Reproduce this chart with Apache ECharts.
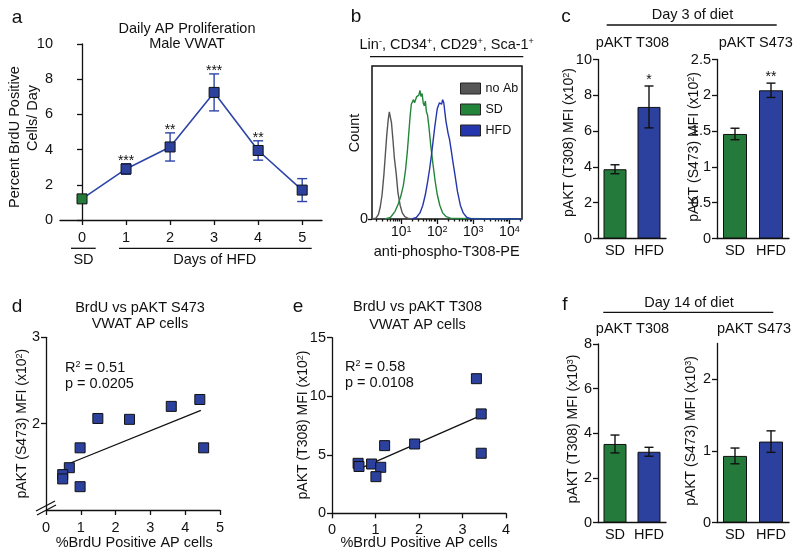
<!DOCTYPE html>
<html><head><meta charset="utf-8">
<script src="https://cdn.jsdelivr.net/npm/echarts@6/dist/echarts.min.js"></script>
<style>html,body{margin:0;padding:0;background:#fff}#c{width:800px;height:556px}</style>
</head><body><div id="c"></div>
<script>
// ---------------- data ----------------
// panel a
const dayCats = [0, 1, 2, 3, 4, 5];
const dayGroup = ['SD', 'HFD', 'HFD', 'HFD', 'HFD', 'HFD'];
const brduMean = [1.2, 2.9, 4.15, 7.25, 3.95, 1.7];
const brduErr = [0.1, 0.3, 0.8, 1.05, 0.55, 0.65];
const brduStars = ['', '***', '**', '***', '**', ''];
// panel b (log10 fluorescence vs relative count)
const noAbX = [0.19, 0.30, 0.37, 0.42, 0.47, 0.52, 0.56, 0.60, 0.64, 0.67, 0.70, 0.73, 0.77, 0.81, 0.86, 0.91, 0.97, 1.03, 1.10, 1.18, 1.30];
const noAbY = [0, 0.005, 0.03, 0.08, 0.16, 0.29, 0.42, 0.55, 0.65, 0.70, 0.69, 0.63, 0.52, 0.40, 0.30, 0.17, 0.09, 0.04, 0.015, 0.005, 0];
const sdX = [0.55, 0.70, 0.83, 0.92, 0.99, 1.06, 1.12, 1.17, 1.21, 1.25, 1.28, 1.31, 1.34, 1.37, 1.40, 1.43, 1.46, 1.49, 1.52, 1.55, 1.58, 1.61, 1.64, 1.67, 1.70, 1.73, 1.77, 1.82, 1.88, 1.94, 2.00, 2.07, 2.15, 2.25, 2.40, 4.35];
const sdY = [0, 0.01, 0.05, 0.10, 0.15, 0.22, 0.32, 0.44, 0.56, 0.68, 0.75, 0.74, 0.78, 0.76, 0.77, 0.80, 0.79, 0.81, 0.84, 0.80, 0.82, 0.76, 0.74, 0.77, 0.70, 0.68, 0.60, 0.48, 0.36, 0.25, 0.16, 0.09, 0.04, 0.015, 0.003, 0];
const hfdX = [1.30, 1.42, 1.52, 1.60, 1.67, 1.73, 1.79, 1.84, 1.89, 1.93, 1.97, 2.00, 2.03, 2.06, 2.09, 2.12, 2.15, 2.18, 2.21, 2.24, 2.27, 2.30, 2.34, 2.38, 2.43, 2.49, 2.56, 2.64, 2.72, 2.82, 2.95, 4.35];
const hfdY = [0, 0.01, 0.04, 0.09, 0.16, 0.24, 0.33, 0.42, 0.52, 0.60, 0.67, 0.72, 0.71, 0.76, 0.77, 0.75, 0.78, 0.76, 0.70, 0.64, 0.60, 0.56, 0.52, 0.46, 0.38, 0.29, 0.18, 0.09, 0.04, 0.01, 0, 0];
const logTicks = [1, 2, 3, 4];
// panel c (day 3)
const dietCats = ['SD', 'HFD'];
const c308Mean = [3.87, 7.35];
const c308Err = [0.25, 1.17];
const c308Stars = ['', '*'];
const c473Mean = [1.46, 2.07];
const c473Err = [0.08, 0.1];
const c473Stars = ['', '**'];
// panel d
const dBrdu = [4.42, 3.6, 1.49, 2.4, 0.98, 4.53, 0.67, 0.48, 0.48, 0.98];
const dS473 = [2.28, 2.2, 2.06, 2.05, 1.72, 1.72, 1.49, 1.41, 1.36, 1.27];
const dFitX = [0.67, 4.45];
// panel e
const eBrdu = [3.32, 3.43, 3.43, 1.9, 1.21, 0.6, 0.62, 0.91, 1.12, 1.01];
const eT308 = [11.5, 8.49, 5.13, 5.92, 5.78, 4.27, 4.0, 4.21, 3.93, 3.13];
const eFitX = [0.6, 3.43];
// panel f (day 14)
const f308Mean = [3.52, 3.17];
const f308Err = [0.4, 0.2];
const f473Mean = [0.93, 1.13];
const f473Err = [0.11, 0.15];

// ---------------- style ----------------
const FF = "'Liberation Sans', Arial, Helvetica, sans-serif";
const GREEN = '#237a3b', BLUE = '#2c409e', LINEBLUE = '#2d44a8', INK = '#111';
const groupColor = { SD: GREEN, HFD: BLUE };
const TICKFS = 14.5;

function fit(xs, ys) {
  const n = xs.length;
  const mx = xs.reduce((a, b) => a + b, 0) / n, my = ys.reduce((a, b) => a + b, 0) / n;
  let sxy = 0, sxx = 0;
  for (let i = 0; i < n; i++) { sxy += (xs[i] - mx) * (ys[i] - my); sxx += (xs[i] - mx) ** 2; }
  const k = sxy / sxx;
  return x => my + k * (x - mx);
}
const fd = fit(dBrdu, dS473), fe = fit(eBrdu, eT308);

const aLine = { show: true, lineStyle: { color: INK, width: 1.3 } };
const aTick = (extra) => Object.assign({ show: true, inside: false, length: 5, lineStyle: { color: INK, width: 1.3 } }, extra || {});
const aLbl = (m, extra) => Object.assign({ color: INK, fontFamily: FF, fontSize: TICKFS, margin: m }, extra || {});
const noSplit = { show: false };

function errItem(color, capW, stars, gap) {
  return function (params, api) {
    const x = api.value(0), m = api.value(1), e = api.value(2);
    const hi = api.coord([x, m + e]), lo = api.coord([x, m - e]);
    const st = { stroke: color, lineWidth: 1.4 };
    const ch = [
      { type: 'line', shape: { x1: hi[0], y1: hi[1], x2: lo[0], y2: lo[1] }, style: st },
      { type: 'line', shape: { x1: hi[0] - capW / 2, y1: hi[1], x2: hi[0] + capW / 2, y2: hi[1] }, style: st },
      { type: 'line', shape: { x1: lo[0] - capW / 2, y1: lo[1], x2: lo[0] + capW / 2, y2: lo[1] }, style: st }
    ];
    const s = stars && stars[params.dataIndex];
    if (s) ch.push({ type: 'text', x: hi[0], y: hi[1] - gap, style: { text: s, fill: INK, fontFamily: FF, fontSize: 14, align: 'center', verticalAlign: 'middle' } });
    return { type: 'group', children: ch };
  };
}

// ---------------- text helpers ----------------
const G = [];
const RICH = {
  n: { fontFamily: FF, fontSize: 14, fill: INK },
  t: { fontFamily: FF, fontSize: 14.5, fill: INK },
  s: { fontFamily: FF, fontSize: 9, fill: INK, verticalAlign: 'top' }
};
function T(x, y, text, size, opt) {
  opt = opt || {};
  G.push({
    type: 'text', x: x, y: y, rotation: opt.rot ? Math.PI / 2 : 0, z: 100,
    style: { text: text, fontFamily: FF, fontSize: size, fill: INK, align: opt.align || 'center', verticalAlign: 'middle', rich: RICH }
  });
}
function L(x1, y1, x2, y2, w) {
  G.push({ type: 'line', z: 100, shape: { x1, y1, x2, y2 }, style: { stroke: INK, lineWidth: w || 1.3 } });
}
const R = true;
// a
T(17, 18, 'a', 19);
T(187, 29, 'Daily AP Proliferation', 14.5); T(187, 44, 'Male VWAT', 14.5);
T(15, 137, 'Percent BrdU Positive', 14.5, { rot: R }); T(33, 118, 'Cells/ Day', 14.5, { rot: R });
T(83.5, 260, 'SD', 14.5); T(214.7, 260, 'Days of HFD', 14.5);
L(71, 248.3, 95.7, 248.3); L(119, 248.3, 311.7, 248.3);
// b
T(356, 17, 'b', 19);
T(446.7, 45, '{t|Lin}{s|-}{t|, CD34}{s|+}{t|, CD29}{s|+}{t|, Sca-1}{s|+}', 14.5);
L(370, 56.7, 523.3, 56.7);
T(355, 133, 'Count', 14.5, { rot: R });
T(446.7, 252.3, 'anti-phospho-T308-PE', 14.5);
// c
T(566, 17, 'c', 19);
T(692.5, 15, 'Day 3 of diet', 14.5); L(606.7, 25, 776.7, 25);
T(632.5, 42.7, 'pAKT T308', 14.5); T(755.8, 42.7, 'pAKT S473', 14.5);
T(569, 142.5, '{n|pAKT (T308) MFI (x10}{s|2}{n|)}', 14, { rot: R });
T(694, 147, '{n|pAKT (S473) MFI (x10}{s|2}{n|)}', 14, { rot: R });
// d
T(17, 307, 'd', 19);
T(140, 308, 'BrdU vs pAKT S473', 14.5); T(140, 324, 'VWAT AP cells', 14.5);
T(65, 368, '{t|R}{s|2}{t| = 0.51}', 14.5, { align: 'left' }); T(65, 384, 'p = 0.0205', 14.5, { align: 'left' });
T(21.7, 423.7, '{n|pAKT (S473) MFI (x10}{s|2}{n|)}', 14, { rot: R });
T(134.2, 543, '%BrdU Positive AP cells', 14.5);
L(36, 511, 55, 501); L(37, 515, 56, 505);
// e
T(298, 307, 'e', 19);
T(417.5, 307, 'BrdU vs pAKT T308', 14.5); T(417.5, 325, 'VWAT AP cells', 14.5);
T(345, 367, '{t|R}{s|2}{t| = 0.58}', 14.5, { align: 'left' }); T(345, 383, 'p = 0.0108', 14.5, { align: 'left' });
T(303.3, 425, '{n|pAKT (T308) MFI (x10}{s|2}{n|)}', 14, { rot: R });
T(419, 543, '%BrdU Positive AP cells', 14.5);
// f
T(565, 305, 'f', 19);
T(689, 303.3, 'Day 14 of diet', 14.5); L(603.3, 312.3, 773.3, 312.3);
T(632.5, 329, 'pAKT T308', 14.5); T(754, 329, 'pAKT S473', 14.5);
T(573.3, 429, '{n|pAKT (T308) MFI (x10}{s|3}{n|)}', 14, { rot: R });
T(691, 431, '{n|pAKT (S473) MFI (x10}{s|3}{n|)}', 14, { rot: R });

// ---------------- axes ----------------
const minorTicks = [];
for (let n = 0; n <= 4; n++) for (let k = 2; k <= 9; k++) { const v = n + Math.log10(k); if (v >= 0.19 && v <= 4.35) minorTicks.push(v); }

const grids = [
  { left: 60, top: 44, width: 262, height: 176 },          // a
  { left: 372, top: 66, width: 150, height: 153, show: true, borderColor: INK, borderWidth: 1.5 }, // b
  { left: 598, top: 59.5, width: 68, height: 179 },        // c left
  { left: 717, top: 59.5, width: 72, height: 179 },        // c right
  { left: 46, top: 337.3, width: 174, height: 172.7 },     // d
  { left: 332, top: 337.7, width: 174, height: 175.6 },    // e
  { left: 598, top: 344, width: 68, height: 178.5 },       // f left
  { left: 717, top: 343.5, width: 72, height: 179 }        // f right
];

const catLbl = (m) => aLbl(m, { interval: 0 });
const xAxes = [
  { gridIndex: 0, type: 'value', min: -0.5, max: 5.45, axisLine: aLine, axisTick: aTick({ customValues: dayCats }), axisLabel: aLbl(10, { customValues: dayCats }), splitLine: noSplit },
  { gridIndex: 1, type: 'value', position: 'bottom', min: 0.19, max: 4.35, axisLine: { show: false }, axisTick: aTick({ length: 5, customValues: logTicks }),
    axisLabel: aLbl(6, { customValues: logTicks, formatter: v => '{b|10}{s|' + Math.round(v) + '}', rich: { b: { fontFamily: FF, fontSize: 14, color: INK }, s: { fontFamily: FF, fontSize: 9, color: INK, verticalAlign: 'top' } } }), splitLine: noSplit },
  { gridIndex: 1, type: 'value', position: 'bottom', min: 0.19, max: 4.35, axisLine: { show: false }, axisTick: aTick({ length: 2.5, customValues: minorTicks }), axisLabel: { show: false }, splitLine: noSplit },
  { gridIndex: 2, type: 'category', data: dietCats, axisLine: aLine, axisTick: { show: false }, axisLabel: catLbl(5) },
  { gridIndex: 3, type: 'category', data: dietCats, axisLine: aLine, axisTick: { show: false }, axisLabel: catLbl(5) },
  { gridIndex: 4, type: 'value', min: 0, max: 5, interval: 1, axisLine: aLine, axisTick: aTick(), axisLabel: aLbl(10), splitLine: noSplit },
  { gridIndex: 5, type: 'value', min: 0, max: 4, interval: 1, axisLine: aLine, axisTick: aTick(), axisLabel: aLbl(9), splitLine: noSplit },
  { gridIndex: 6, type: 'category', data: dietCats, axisLine: aLine, axisTick: { show: false }, axisLabel: catLbl(5) },
  { gridIndex: 7, type: 'category', data: dietCats, axisLine: aLine, axisTick: { show: false }, axisLabel: catLbl(5) }
];
const yAxes = [
  { gridIndex: 0, type: 'value', min: 0, max: 10, interval: 2, axisLine: aLine, axisTick: aTick(), axisLabel: aLbl(7), splitLine: noSplit },
  { gridIndex: 1, type: 'value', min: 0, max: 1, axisLine: { show: false }, axisTick: aTick({ length: 4, customValues: [0] }), axisLabel: aLbl(4, { customValues: [0] }), splitLine: noSplit },
  { gridIndex: 2, type: 'value', min: 0, max: 10, interval: 2, axisLine: aLine, axisTick: aTick(), axisLabel: aLbl(6), splitLine: noSplit },
  { gridIndex: 3, type: 'value', min: 0, max: 2.5, interval: 0.5, axisLine: aLine, axisTick: aTick(), axisLabel: aLbl(6), splitLine: noSplit },
  { gridIndex: 4, type: 'value', min: 1, max: 3, axisLine: aLine, axisTick: aTick({ customValues: [2, 3] }), axisLabel: aLbl(6, { customValues: [2, 3] }), splitLine: noSplit },
  { gridIndex: 5, type: 'value', min: 0, max: 15, interval: 5, axisLine: aLine, axisTick: aTick(), axisLabel: aLbl(6), splitLine: noSplit },
  { gridIndex: 6, type: 'value', min: 0, max: 8, interval: 2, axisLine: aLine, axisTick: aTick(), axisLabel: aLbl(6), splitLine: noSplit },
  { gridIndex: 7, type: 'value', min: 0, max: 2.5, axisLine: aLine, axisTick: aTick({ customValues: [0, 1, 2] }), axisLabel: aLbl(6, { customValues: [0, 1, 2] }), splitLine: noSplit }
];

// ---------------- series ----------------
const sq = (c) => ({ color: c, borderColor: INK, borderWidth: 1, opacity: 1 });
const barData = (vals) => vals.map((v, i) => ({ value: v, itemStyle: { color: groupColor[dietCats[i]] } }));
const errData = (m, e) => m.map((v, i) => [i, v, e[i]]);
const series = [
  // a
  { type: 'custom', xAxisIndex: 0, yAxisIndex: 0, z: 2, renderItem: errItem(LINEBLUE, 10, brduStars, 3),
    data: dayCats.map((d, i) => [d, brduMean[i], brduErr[i]]) },
  { type: 'line', xAxisIndex: 0, yAxisIndex: 0, z: 3, symbol: 'rect', symbolSize: 10, lineStyle: { color: LINEBLUE, width: 1.6 },
    data: dayCats.map((d, i) => ({ value: [d, brduMean[i]], itemStyle: sq(groupColor[dayGroup[i]]) })) },
  // b
  { name: 'no Ab', type: 'line', xAxisIndex: 1, yAxisIndex: 1, symbol: 'none', color: '#555', lineStyle: { color: '#555', width: 1.4 }, data: noAbX.map((x, i) => [x, noAbY[i]]) },
  { name: 'SD', type: 'line', xAxisIndex: 1, yAxisIndex: 1, symbol: 'none', color: '#23853a', lineStyle: { color: '#23853a', width: 1.4 }, data: sdX.map((x, i) => [x, sdY[i]]) },
  { name: 'HFD', type: 'line', xAxisIndex: 1, yAxisIndex: 1, symbol: 'none', color: '#2436ad', lineStyle: { color: '#2436ad', width: 1.4 }, data: hfdX.map((x, i) => [x, hfdY[i]]) },
  // c
  { type: 'bar', xAxisIndex: 3, yAxisIndex: 2, barWidth: 23, itemStyle: { borderColor: INK, borderWidth: 1 }, data: barData(c308Mean) },
  { type: 'custom', xAxisIndex: 3, yAxisIndex: 2, z: 5, renderItem: errItem(INK, 9, c308Stars, 5.5), data: errData(c308Mean, c308Err) },
  { type: 'bar', xAxisIndex: 4, yAxisIndex: 3, barWidth: 24, itemStyle: { borderColor: INK, borderWidth: 1 }, data: barData(c473Mean) },
  { type: 'custom', xAxisIndex: 4, yAxisIndex: 3, z: 5, renderItem: errItem(INK, 9, c473Stars, 5.5), data: errData(c473Mean, c473Err) },
  // d
  { type: 'line', xAxisIndex: 5, yAxisIndex: 4, symbol: 'none', z: 2, lineStyle: { color: INK, width: 1.3 }, data: dFitX.map(x => [x, fd(x)]) },
  { type: 'scatter', xAxisIndex: 5, yAxisIndex: 4, z: 3, symbol: 'rect', symbolSize: 10, itemStyle: sq(BLUE), data: dBrdu.map((x, i) => [x, dS473[i]]) },
  // e
  { type: 'line', xAxisIndex: 6, yAxisIndex: 5, symbol: 'none', z: 2, lineStyle: { color: INK, width: 1.3 }, data: eFitX.map(x => [x, fe(x)]) },
  { type: 'scatter', xAxisIndex: 6, yAxisIndex: 5, z: 3, symbol: 'rect', symbolSize: 10, itemStyle: sq(BLUE), data: eBrdu.map((x, i) => [x, eT308[i]]) },
  // f
  { type: 'bar', xAxisIndex: 7, yAxisIndex: 6, barWidth: 23, itemStyle: { borderColor: INK, borderWidth: 1 }, data: barData(f308Mean) },
  { type: 'custom', xAxisIndex: 7, yAxisIndex: 6, z: 5, renderItem: errItem(INK, 9, null, 0), data: errData(f308Mean, f308Err) },
  { type: 'bar', xAxisIndex: 8, yAxisIndex: 7, barWidth: 24, itemStyle: { borderColor: INK, borderWidth: 1 }, data: barData(f473Mean) },
  { type: 'custom', xAxisIndex: 8, yAxisIndex: 7, z: 5, renderItem: errItem(INK, 9, null, 0), data: errData(f473Mean, f473Err) }
];

const chart = echarts.init(document.getElementById('c'), null, { renderer: 'canvas' });
chart.setOption({
  animation: false,
  backgroundColor: '#fff',
  textStyle: { fontFamily: FF },
  grid: grids, xAxis: xAxes, yAxis: yAxes, series: series,
  legend: {
    data: ['no Ab', 'SD', 'HFD'], orient: 'vertical', left: 455, top: 77, itemWidth: 20, itemHeight: 11, itemGap: 8,
    icon: 'rect', itemStyle: { borderColor: '#222', borderWidth: 1 }, selectedMode: false,
    textStyle: { fontFamily: FF, fontSize: 12.5, color: INK }
  },
  graphic: G
});
</script></body></html>
